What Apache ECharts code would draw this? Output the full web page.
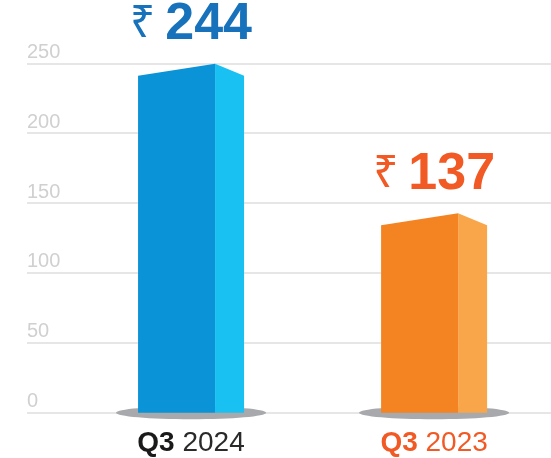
<!DOCTYPE html>
<html><head><meta charset="utf-8">
<script src="https://cdn.jsdelivr.net/npm/echarts@6/dist/echarts.min.js"></script>
<style>html,body{margin:0;padding:0;background:#fff}#c{width:551px;height:458px}</style>
</head><body><div id="c"></div>
<script>
// ---- data ----
const quarters = ['Q3', 'Q3'];
const years = ['2024', '2023'];
const values = [244, 137];
const yMin = 0, yMax = 250, yStep = 50;

// ---- styles ----
const palette = [
  { front: '#0a93d7', side: '#19c0f2', num: '#1872bb', tag: '#1a1a1a', year: '#2a2a2a' },
  { front: '#f48322', side: '#f9a64b', num: '#f15a24', tag: '#f15a24', year: '#f15a24' }
];
const FONT = "'Liberation Sans', Arial, Helvetica, sans-serif";

const chart = echarts.init(document.getElementById('c'), null, { renderer: 'canvas' });
chart.setOption({
  animation: false,
  grid: { left: 27, right: 0, top: 63.3, bottom: 45.3 },
  xAxis: { type: 'value', min: -0.675, max: 1.481, show: false },
  yAxis: {
    type: 'value', min: yMin, max: yMax, interval: yStep,
    axisLine: { show: false }, axisTick: { show: false },
    splitLine: { lineStyle: { color: '#e6e6e6', width: 2 } },
    axisLabel: {
      inside: true, margin: 0, align: 'left', verticalAlign: 'bottom',
      padding: [0, 0, 1, 0],
      color: '#d0d0d0', fontSize: 20, fontFamily: FONT
    }
  },
  series: [{
    type: 'custom',
    data: values.map((v, i) => [i, v]),
    renderItem(params, api) {
      const i = params.dataIndex;
      const xi = api.value(0), v = api.value(1);
      const base = api.coord([xi, 0]);
      const top = api.coord([xi, v]);
      const cx = base[0], by = base[1];
      const yl = top[1] + 4, yp = yl - 12;
      const c = palette[i];
      return {
        type: 'group',
        children: [
          { type: 'ellipse', shape: { cx: cx, cy: by, rx: 75, ry: 6.5 }, style: { fill: '#a7a9ac' } },
          { type: 'polygon', shape: { points: [[cx - 53, by], [cx - 53, yl], [cx + 24, yp], [cx + 24, by]] }, style: { fill: c.front } },
          { type: 'polygon', shape: { points: [[cx + 24, by], [cx + 24, yp], [cx + 53, yl], [cx + 53, by]] }, style: { fill: c.side } },
          {
            type: 'text', x: cx, y: top[1] - 27,
            style: {
              text: '{r|₹}{s| }{n|' + v + '}',
              align: 'center', verticalAlign: 'bottom',
              rich: {
                r: { fontSize: 44, lineHeight: 40, verticalAlign: 'middle', fontFamily: "'Noto Sans', 'DejaVu Sans', sans-serif", fill: c.num },
                s: { fontSize: 36, lineHeight: 40, verticalAlign: 'middle', fontFamily: FONT, fill: c.num },
                n: { fontSize: 52, lineHeight: 40, verticalAlign: 'middle', fontFamily: FONT, fontWeight: 'bold', fill: c.num }
              },
              lineHeight: 40, fontSize: 52, fontFamily: FONT, fontWeight: 'bold', fill: c.num
            }
          },
          {
            type: 'text', x: cx, y: by + 31,
            style: {
              text: '{q|' + quarters[i] + '} {y|' + years[i] + '}',
              align: 'center', verticalAlign: 'middle',
              rich: {
                q: { fontSize: 28, fontFamily: FONT, fontWeight: 'bold', fill: c.tag },
                y: { fontSize: 28, fontFamily: FONT, fill: c.year }
              },
              fontSize: 28, fontFamily: FONT, fill: c.year
            }
          }
        ]
      };
    }
  }]
});
</script></body></html>
